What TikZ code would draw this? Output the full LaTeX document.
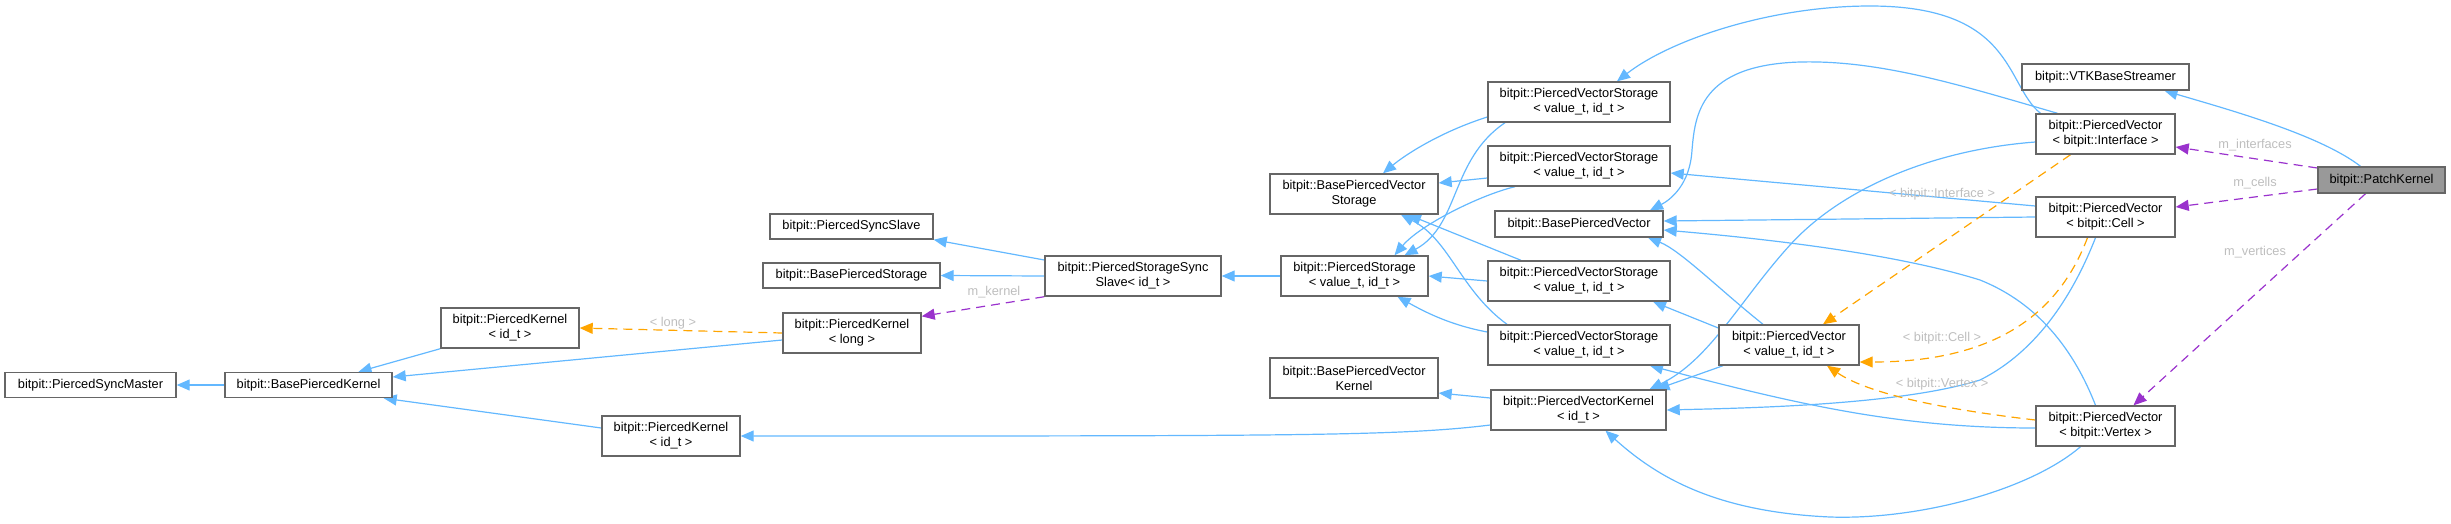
\documentclass[tikz,border=0pt]{standalone}
\usepackage{fontspec}
\setmainfont{Liberation Sans}
\usetikzlibrary{arrows.meta}
\definecolor{eblue}{HTML}{63B8FF}
\definecolor{eorange}{HTML}{FFA500}
\definecolor{epurple}{HTML}{9A32CD}
\definecolor{bord}{HTML}{666666}
\definecolor{lgrey}{HTML}{BEBEBE}
\definecolor{pkfill}{HTML}{999999}
\pgfdeclarelayer{background}
\pgfsetlayers{background,main}
\begin{document}
\begin{tikzpicture}[x=1pt,y=-1pt,
  box/.style={draw=bord, line width=1.4pt, fill=white, inner sep=0pt, align=center,
    font=\fontsize{12.8}{15}\selectfont},
  boxa/.style={box, minimum height=25pt},
  boxb/.style={box, minimum height=40pt},
  tip/.style={-{Triangle[length=13pt,width=11pt]}},
  inh/.style={draw=eblue, line width=1.2pt, tip},
  tmpl/.style={draw=eorange, line width=1.2pt, dash pattern=on 9pt off 6pt, tip},
  usep/.style={draw=epurple, line width=1.2pt, dash pattern=on 9pt off 6pt, tip},
  lab/.style={text=lgrey, inner sep=0pt, font=\fontsize{12.8}{15}\selectfont}]
\useasboundingbox (0,0) rectangle (2451,523);

% nodes
\node[boxa, minimum width=171pt] (psm) at (90.5,385) {bitpit::PiercedSyncMaster};
\node[boxa, minimum width=167pt] (bpk) at (308.5,385) {bitpit::BasePiercedKernel};
\node[boxb, minimum width=138pt] (pku) at (510,328) {bitpit::PiercedKernel\\< id\_t >};
\node[boxb, minimum width=138pt] (pkl) at (671,436) {bitpit::PiercedKernel\\< id\_t >};
\node[boxb, minimum width=138pt] (pklong) at (852,333) {bitpit::PiercedKernel\\< long >};
\node[boxa, minimum width=163pt] (pss) at (851.5,226.5) {bitpit::PiercedSyncSlave};
\node[boxa, minimum width=177pt] (bps) at (851.5,275.5) {bitpit::BasePiercedStorage};
\node[boxb, minimum width=176pt] (psss) at (1133,276) {bitpit::PiercedStorageSync\\Slave< id\_t >};
\node[boxb, minimum width=147pt] (ps) at (1354.5,276) {bitpit::PiercedStorage\\< value\_t, id\_t >};
\node[boxb, minimum width=168pt] (bpvs) at (1354,194) {bitpit::BasePiercedVector\\Storage};
\node[boxb, minimum width=168pt] (bpvk) at (1354,378) {bitpit::BasePiercedVector\\Kernel};
\node[boxb, minimum width=182pt] (pvs1) at (1579,102) {bitpit::PiercedVectorStorage\\< value\_t, id\_t >};
\node[boxb, minimum width=182pt] (pvs2) at (1579,166) {bitpit::PiercedVectorStorage\\< value\_t, id\_t >};
\node[box, minimum height=26pt, minimum width=168pt] (bpv) at (1579,224) {bitpit::BasePiercedVector};
\node[boxb, minimum width=182pt] (pvs3) at (1579,281) {bitpit::PiercedVectorStorage\\< value\_t, id\_t >};
\node[boxb, minimum width=182pt] (pvs4) at (1579,345) {bitpit::PiercedVectorStorage\\< value\_t, id\_t >};
\node[boxb, minimum width=175pt] (pvk) at (1578.5,410) {bitpit::PiercedVectorKernel\\< id\_t >};
\node[boxb, minimum width=140pt] (pv) at (1789,345) {bitpit::PiercedVector\\< value\_t, id\_t >};
\node[box, minimum height=26pt, minimum width=167pt] (vtk) at (2105.5,77) {bitpit::VTKBaseStreamer};
\node[boxb, minimum width=139pt] (pvi) at (2105.5,134) {bitpit::PiercedVector\\< bitpit::Interface >};
\node[box, minimum height=26pt, minimum width=127pt, fill=pkfill] (pk) at (2381.5,180) {bitpit::PatchKernel};
\node[boxb, minimum width=139pt] (pvc) at (2105.5,217) {bitpit::PiercedVector\\< bitpit::Cell >};
\node[boxb, minimum width=139pt] (pvv) at (2105.5,426) {bitpit::PiercedVector\\< bitpit::Vertex >};

% labels
\node[lab] (llong) at (673,323) {< long >};
\node[lab] (lkernel) at (994,292) {m\_kernel};
\node[lab] (linterface) at (1942,194) {< bitpit::Interface >};
\node[lab] (lcell) at (1942,338) {< bitpit::Cell >};
\node[lab] (lvertex) at (1942,384) {< bitpit::Vertex >};
\node[lab] (lminter) at (2255,145) {m\_interfaces};
\node[lab] (lmcells) at (2255,183) {m\_cells};
\node[lab] (lmvert) at (2255,252) {m\_vertices};

\begin{pgfonlayer}{background}
% left part
\draw[inh] (bpk.west) -- (psm.east);
\draw[inh] (pku.south west) -- ([xshift=50]bpk.north);
\draw[inh] ([yshift=-7]pklong.west) -- ([yshift=8]bpk.east);
\draw[inh] ([yshift=8]pkl.west) -- ([xshift=-9]bpk.south east);
\draw[tmpl] (pklong.west) -- (pku.east);
\draw[inh] ([yshift=16]psss.west) -- (pss.south east);
\draw[inh] (psss.west) -- (bps.east);
\draw[usep] (psss.south west) -- ([yshift=-4]pklong.north east);
\draw[inh] (ps.west) -- (psss.east);
% vector storages
\draw[inh] ([yshift=-15]pvs1.west) .. controls (1440,132) and (1405,155) .. ([xshift=29]bpvs.north);
\draw[inh] ([xshift=-74]pvs1.south) .. controls (1450,160) and (1460,225) .. ([xshift=50]ps.north);
\draw[inh] ([yshift=-12]pvs2.west) -- ([yshift=11]bpvs.east);
\draw[inh] ([xshift=-64]pvs2.south) .. controls (1480,195) and (1420,225) .. ([xshift=40]ps.north);
\draw[inh] ([xshift=-58]pvs3.north) -- ([xshift=54]bpvs.south);
\draw[inh] ([xshift=-72]pvs4.north) .. controls (1460,290) and (1450,240) .. ([xshift=47]bpvs.south);
\draw[inh] (pvs3.west) -- (ps.east);
\draw[inh] ([yshift=13]pvs4.west) .. controls (1450,325) and (1425,312) .. ([xshift=43]ps.south);
\draw[inh] ([yshift=12]pvk.west) -- ([yshift=-15]bpvk.east);
\draw[inh] ([yshift=-15]pvk.west) .. controls (1400,436) and (1300,436) .. (pkl.east);
% PiercedVector<value_t,id_t>
\draw[inh] ([xshift=-26]pv.north) .. controls (1720,290) and (1680,250) .. ([xshift=69]bpv.south);
\draw[inh] ([yshift=17]pv.west) -- ([xshift=74]pvs3.south);
\draw[inh] ([xshift=-66]pv.south) -- ([xshift=78]pvk.north);
% PiercedVector<Interface>
\draw[inh] ([xshift=-65]pvi.north) .. controls (2005,85) and (2015,6) .. (1870,6)
  .. controls (1770,6) and (1670,40) .. ([xshift=38]pvs1.north);
\draw[inh] ([xshift=-48]pvi.north) .. controls (1960,85) and (1880,60) .. (1800,62)
  .. controls (1700,65) and (1695,115) .. (1692,150)
  .. controls (1690,185) and (1670,200) .. ([xshift=71]bpv.north);
\draw[inh] ([yshift=-8]pvi.west) .. controls (1930,150) and (1840,190) .. (1790,245)
  .. controls (1740,300) and (1710,360) .. ([xshift=71]pvk.north);
% PiercedVector<Cell>
\draw[inh] ([yshift=11]pvc.west) -- ([yshift=-7]pvs2.east);
\draw[inh] (pvc.west) -- ([yshift=3]bpv.east);
\draw[inh] ([xshift=-10]pvc.south) .. controls (2075,290) and (2040,350) .. (1980,380)
  .. controls (1900,405) and (1750,408) .. (pvk.east);
% PiercedVector<Vertex>
\draw[inh] ([xshift=-10]pvv.north) .. controls (2070,340) and (2030,300) .. (1980,280)
  .. controls (1900,255) and (1780,240) .. ([yshift=-6]bpv.east);
\draw[inh] ([yshift=-2]pvv.west) .. controls (1900,428) and (1800,405) .. ([xshift=71]pvs4.south);
\draw[inh] ([xshift=-25]pvv.south) .. controls (2030,490) and (1920,520) .. (1830,517)
  .. controls (1720,512) and (1660,480) .. ([xshift=27]pvk.south);
% template instantiations
\draw[tmpl] ([xshift=-35]pvi.south) -- ([xshift=34]pv.north);
\draw[tmpl] ([xshift=-18]pvc.south) .. controls (2060,310) and (2000,362) .. ([yshift=-17]pv.east);
\draw[tmpl] ([yshift=6]pvv.west) .. controls (1950,410) and (1870,395) .. ([xshift=38]pv.south);
% PatchKernel
\draw[inh] ([xshift=-21]pk.north) .. controls (2320,135) and (2230,110) .. ([xshift=59]vtk.south);
\draw[usep] ([yshift=12]pk.west) -- ([yshift=-13]pvi.east);
\draw[usep] ([yshift=-9]pk.west) -- ([yshift=10]pvc.east);
\draw[usep] ([xshift=-16]pk.south) -- ([xshift=28]pvv.north);
\end{pgfonlayer}
\end{tikzpicture}
\end{document}
